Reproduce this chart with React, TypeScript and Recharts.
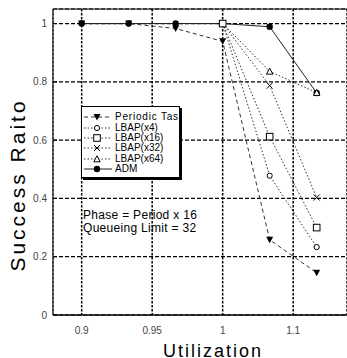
import React from 'react';
import { LineChart, Line, XAxis, YAxis, CartesianGrid, ReferenceLine, Legend } from 'recharts';

// x positions of the six measured utilization points (evenly spaced on the plot)
const xPositions = [0, 1, 2, 3, 4, 5];
const xTickPositions = [0, 1.5, 3, 4.5];
const xTickLabels = ['0.9', '0.95', '1', '1.1'];
const yTicks = [0, 0.2, 0.4, 0.6, 0.8, 1];

const periodicTask = [1, 1, 0.983, 0.939, 0.258, 0.145];
const lbapX4 = [null, null, null, 1, 0.478, 0.233];
const lbapX16 = [null, null, null, 1, 0.612, 0.3];
const lbapX32 = [null, null, null, 1, 0.787, 0.403];
const lbapX64 = [null, null, null, 1, 0.836, 0.763];
const adm = [1, 1, 1, 1, 0.989, 0.762];

const seriesNames = ['Periodic Task', 'LBAP(x4)', 'LBAP(x16)', 'LBAP(x32)', 'LBAP(x64)', 'ADM'];
const annotations = ['Phase = Period x 16', 'Queueing Limit = 32'];

const data = xPositions.map((x, i) => ({
  x,
  periodic: periodicTask[i],
  lbap4: lbapX4[i],
  lbap16: lbapX16[i],
  lbap32: lbapX32[i],
  lbap64: lbapX64[i],
  adm: adm[i],
}));

const FONT = '"Liberation Sans", Arial, Helvetica, sans-serif';

type Kind = 'triDown' | 'circleOpen' | 'square' | 'cross' | 'triUp' | 'circleFilled';

const Marker = ({ kind, cx, cy }: { kind: Kind; cx: number; cy: number }) => {
  switch (kind) {
    case 'triDown':
      return <path d={`M${cx - 3.5},${cy - 3} L${cx + 3.5},${cy - 3} L${cx},${cy + 3.5} Z`} fill="#000" />;
    case 'circleOpen':
      return <circle cx={cx} cy={cy} r={2.6} fill="#fff" stroke="#000" strokeWidth={1} />;
    case 'square':
      return <rect x={cx - 3.3} y={cy - 3.3} width={6.6} height={6.6} fill="#fff" stroke="#000" strokeWidth={1} />;
    case 'cross':
      return (
        <g stroke="#000" strokeWidth={1}>
          <line x1={cx - 3} y1={cy - 3} x2={cx + 3} y2={cy + 3} />
          <line x1={cx - 3} y1={cy + 3} x2={cx + 3} y2={cy - 3} />
        </g>
      );
    case 'triUp':
      return <path d={`M${cx - 3.2},${cy + 2.8} L${cx + 3.2},${cy + 2.8} L${cx},${cy - 3.2} Z`} fill="#fff" stroke="#000" strokeWidth={1} />;
    case 'circleFilled':
      return <circle cx={cx} cy={cy} r={3.2} fill="#000" />;
  }
  return null;
};

const series = [
  { key: 'periodic', name: seriesNames[0], kind: 'triDown' as Kind, dash: '4 3', stroke: '#333' },
  { key: 'lbap4', name: seriesNames[1], kind: 'circleOpen' as Kind, dash: '1.5 2', stroke: '#333' },
  { key: 'lbap16', name: seriesNames[2], kind: 'square' as Kind, dash: '1.5 2', stroke: '#333' },
  { key: 'lbap32', name: seriesNames[3], kind: 'cross' as Kind, dash: '1.5 2', stroke: '#333' },
  { key: 'lbap64', name: seriesNames[4], kind: 'triUp' as Kind, dash: '1.5 2', stroke: '#333' },
  { key: 'adm', name: seriesNames[5], kind: 'circleFilled' as Kind, dash: undefined, stroke: '#222' },
];

const drawOrder = ['periodic', 'adm', 'lbap4', 'lbap32', 'lbap64', 'lbap16'];

const makeDot = (kind: Kind) => (props: any) => {
  const { cx, cy, index, value } = props;
  if (cx == null || cy == null || value == null || (Array.isArray(value) && value[1] == null)) {
    return <g key={`e-${index}`} />;
  }
  return (
    <g key={`d-${index}`}>
      <Marker kind={kind} cx={cx} cy={cy} />
    </g>
  );
};

const renderLegend = () => (
  <div
    style={{
      width: 99,
      height: 72,
      boxSizing: 'border-box',
      border: '1px solid #000',
      boxShadow: '2px 2px 0 #000',
      background: '#fff',
      overflow: 'hidden',
      paddingTop: 5,
      fontFamily: FONT,
    }}
  >
    {series.map((s, i) => (
      <div key={s.key} style={{ display: 'flex', alignItems: 'center', height: 10.4, paddingLeft: 2, whiteSpace: 'nowrap' }}>
        <svg width={30} height={10} style={{ flex: 'none', overflow: 'visible' }}>
          <line x1={0} y1={5} x2={28} y2={5} stroke={s.stroke} strokeWidth={1} strokeDasharray={s.dash} />
          <Marker kind={s.kind} cx={13} cy={5} />
        </svg>
        <span style={{ marginLeft: 1, fontSize: 10, lineHeight: '10px', color: '#000', letterSpacing: i === 0 ? 0.8 : 0 }}>{s.name}</span>
      </div>
    ))}
  </div>
);

const YLabel = (props: any) => {
  const vb = props.viewBox || { x: 0, y: 9, width: 53, height: 306 };
  const cy = vb.y + vb.height / 2 + 23;
  const cx = 25;
  return (
    <text
      x={cx}
      y={cy}
      transform={`rotate(-90 ${cx} ${cy})`}
      textAnchor="middle"
      fontFamily={FONT}
      fontSize={21}
      letterSpacing={3}
      fill="#000"
    >
      Success Raito
    </text>
  );
};

const XLabel = (props: any) => {
  const vb = props.viewBox || { x: 53, y: 315, width: 294, height: 43 };
  const cx = vb.x + vb.width / 2 + 13;
  return (
    <text x={cx} y={357} textAnchor="middle" fontFamily={FONT} fontSize={18} letterSpacing={2} fill="#000">
      Utilization
    </text>
  );
};

export default function App() {
  return (
    <div style={{ position: 'absolute', left: 0, top: 0, width: 347, height: 358, overflow: 'hidden', background: '#fff' }}>
      <LineChart width={347} height={358} data={data} margin={{ top: 9, right: 0, bottom: 0, left: 0 }}>
        <CartesianGrid vertical={false} stroke="#000" strokeWidth={1.2} strokeDasharray="4 2" />
        <CartesianGrid horizontal={false} stroke="#000" strokeWidth={1.5} strokeDasharray="2.5 1.5" />
        <XAxis
          dataKey="x"
          type="number"
          domain={[-0.61, 5.645]}
          allowDataOverflow
          ticks={xTickPositions}
          tickFormatter={(v: number) => xTickLabels[xTickPositions.indexOf(v)] ?? ''}
          height={43}
          tickLine={false}
          tickSize={0}
          tickMargin={12}
          axisLine={{ stroke: '#000', strokeWidth: 1.5 }}
          tick={{ fontSize: 10, fill: '#444', fontFamily: FONT }}
          label={<XLabel />}
        />
        <YAxis
          type="number"
          domain={[0, 1.05]}
          allowDataOverflow
          ticks={yTicks}
          tickFormatter={(v: number) => String(v)}
          width={53}
          tickSize={-4}
          tickMargin={10}
          tickLine={{ stroke: '#000' }}
          axisLine={{ stroke: '#444', strokeWidth: 1.5 }}
          tick={{ fontSize: 10, fill: '#444', fontFamily: FONT }}
          label={<YLabel />}
        />
        <ReferenceLine y={1.05} stroke="#000" strokeWidth={1} />
        <Legend
          layout="vertical"
          align="center"
          verticalAlign="middle"
          content={renderLegend}
          wrapperStyle={{ left: 81, top: 106, width: 101, height: 74 }}
        />
        {drawOrder.map((k) => {
          const s = series.find((q) => q.key === k)!;
          return (
            <Line
              key={s.key}
              dataKey={s.key}
              name={s.name}
              type="linear"
              stroke={s.stroke}
              strokeWidth={1}
              strokeDasharray={s.dash}
              dot={makeDot(s.kind)}
              activeDot={false}
              isAnimationActive={false}
              legendType="none"
            />
          );
        })}
      </LineChart>
      <div
        style={{
          position: 'absolute',
          left: 83,
          top: 209,
          fontFamily: FONT,
          fontSize: 12,
          lineHeight: '13px',
          letterSpacing: 0.3,
          color: '#000',
          whiteSpace: 'nowrap',
          pointerEvents: 'none',
        }}
      >
        {annotations.map((a) => (
          <div key={a}>{a}</div>
        ))}
      </div>
    </div>
  );
}
